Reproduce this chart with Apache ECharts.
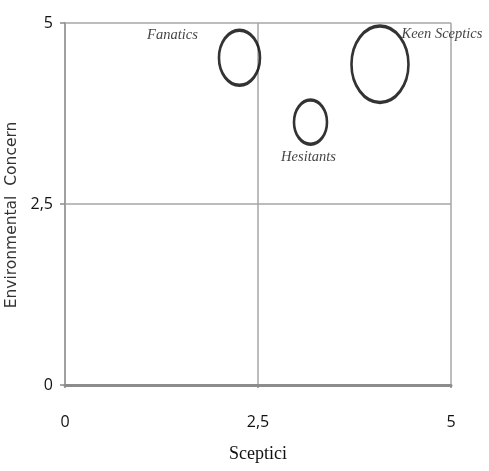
<!DOCTYPE html>
<html><head><meta charset="utf-8">
<script src="https://cdn.jsdelivr.net/npm/echarts@6/dist/echarts.min.js"></script>
<style>html,body{margin:0;padding:0;background:#fff}#c{width:489px;height:471px}</style>
</head><body><div id="c"></div>
<script>
const segments = ['Fanatics', 'Keen Sceptics', 'Hesitants'];
const scepticism = [2.26, 4.08, 3.18];
const concern = [4.52, 4.43, 3.63];
const bubbleSize = [41, 57, 33];
const tickValues = [0, 2.5, 5];
const tickLabels = ['0', '2,5', '5'];

const labelOffsets = [[-67, -23], [62, -30], [-2, 35]];
const fmt = v => { const i = tickValues.indexOf(v); return i >= 0 ? tickLabels[i] : ''; };

const chart = echarts.init(document.getElementById('c'));
chart.setOption({
  animation: false,
  grid: { left: 65, right: 38, top: 23, bottom: 86, containLabel: false, outerBoundsMode: 'none' },
  xAxis: {
    type: 'value', min: 0, max: 5, interval: 2.5,
    name: 'Sceptici', nameLocation: 'middle', nameGap: 60,
    nameTextStyle: { fontFamily: 'Liberation Serif', fontSize: 18, color: '#111' },
    axisLine: { show: true, lineStyle: { color: '#8c8c8c', width: 3 } },
    axisTick: { show: true, length: 3, lineStyle: { color: '#8c8c8c', width: 1.5 } },
    axisLabel: { formatter: fmt, margin: 29, fontFamily: 'Liberation Sans Narrow, Open Sans', fontSize: 16, color: '#111' },
    splitLine: { show: true, lineStyle: { color: '#a6a6a6', width: 1.5 } }
  },
  yAxis: {
    type: 'value', min: 0, max: 5, interval: 2.5,
    name: 'Environmental  Concern', nameLocation: 'middle', nameGap: 44, nameRotate: 90,
    nameTextStyle: { fontFamily: 'DejaVu Sans', fontSize: 15.5, color: '#333', padding: [0, 22, 0, 0] },
    axisLine: { show: true, lineStyle: { color: '#a0a0a0', width: 2 } },
    axisTick: { show: true, inside: false, length: 5, lineStyle: { color: '#8c8c8c', width: 1.5 } },
    axisLabel: { formatter: fmt, margin: 12, fontFamily: 'Liberation Sans Narrow, Open Sans', fontSize: 16, color: '#111' },
    splitLine: { show: true, lineStyle: { color: '#a6a6a6', width: 1.5 } }
  },
  series: [{
    type: 'scatter',
    symbol: 'circle',
    data: segments.map((n, i) => ({
      name: n,
      value: [scepticism[i], concern[i], bubbleSize[i]],
      label: { offset: labelOffsets[i] }
    })),
    symbolSize: v => [v[2], v[2] * 1.34],
    itemStyle: { color: 'rgba(255,255,255,0)', borderColor: '#000', borderWidth: 3 },
    label: {
      show: true, position: 'inside', formatter: p => p.name,
      fontFamily: 'Liberation Serif', fontStyle: 'italic', fontSize: 14.5, color: '#111'
    }
  }]
});
</script></body></html>
